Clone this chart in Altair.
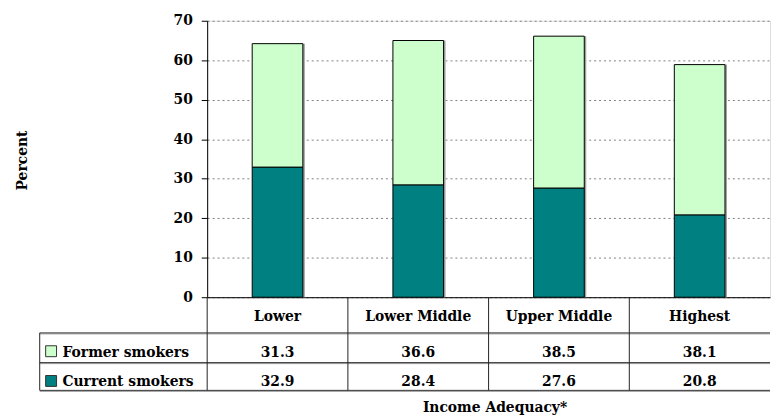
import altair as alt
import pandas as pd

categories = ["Lower", "Lower Middle", "Upper Middle", "Highest"]
former = [31.3, 36.6, 38.5, 38.1]
current = [32.9, 28.4, 27.6, 20.8]
series = ["Former smokers", "Current smokers"]
colors = ["#CCFFCC", "#008080"]
yticks = [0, 10, 20, 30, 40, 50, 60, 70]

rows = []
for i, c in enumerate(categories):
    rows.append({"category": c, "series": series[0], "value": former[i], "order": 1})
    rows.append({"category": c, "series": series[1], "value": current[i], "order": 0})
df = pd.DataFrame(rows)

W = 568
H = 279
FONT = "DejaVu Serif"
FS = 14

xsc = alt.Scale(paddingInner=0, paddingOuter=0)
csc = alt.Scale(domain=series, range=colors)
ysc = alt.Scale(domain=[0, 70], nice=False)

yaxis = alt.Axis(
    title="Percent", values=yticks, labelOverlap=False,
    labelFont=FONT, labelFontSize=FS, labelFontWeight="bold", labelColor="black",
    labelPadding=9, tickSize=6, tickColor="black", domainColor="black",
    grid=True, gridDash=[2, 3], gridColor="#808080", gridWidth=1,
    titleFont=FONT, titleFontSize=FS, titleFontWeight="bold", titleColor="black",
    titleBaseline="alphabetic", titleX=-182, titleY=H / 2 + 1,
)
xaxis = alt.Axis(
    title="Income Adequacy*", labels=False, ticks=False, grid=False,
    domainColor="black", domainWidth=1,
    titleFont=FONT, titleFontSize=FS, titleFontWeight="bold", titleColor="black",
    titleBaseline="alphabetic", titleY=115, titleX=290,
)

base = alt.Chart(df)

shadow = base.mark_bar(color="#a0a0a0", xOffset=2, width=alt.RelativeBandSize(0.36)).encode(
    x=alt.X("category:N", sort=categories, scale=xsc, axis=xaxis),
    y=alt.Y("sum(value):Q", scale=ysc, axis=yaxis),
)

bars = base.mark_bar(stroke="black", strokeWidth=1, width=alt.RelativeBandSize(0.36)).encode(
    x=alt.X("category:N", sort=categories, scale=xsc, axis=xaxis),
    y=alt.Y("value:Q", stack="zero", scale=ysc, axis=yaxis),
    color=alt.Color("series:N", scale=csc, legend=None),
    order=alt.Order("order:Q"),
)

txt = dict(font=FONT, fontSize=FS, fontWeight="bold", color="black", baseline="alphabetic")

header = base.transform_filter(alt.datum.series == series[0]).mark_text(**txt).encode(
    x=alt.X("category:N", sort=categories),
    y=alt.value(321 - 18),
    text="category:N",
)

row1 = base.transform_filter(alt.datum.series == series[0]).mark_text(**txt).encode(
    x=alt.X("category:N", sort=categories),
    y=alt.value(357 - 18),
    text=alt.Text("value:Q", format=".1f"),
)
row2 = base.transform_filter(alt.datum.series == series[1]).mark_text(**txt).encode(
    x=alt.X("category:N", sort=categories),
    y=alt.value(387 - 18),
    text=alt.Text("value:Q", format=".1f"),
)

leg_txt = dict(txt, align="left")
leg1 = base.transform_filter(
    (alt.datum.series == series[0]) & (alt.datum.category == categories[0])
).mark_text(**leg_txt).encode(x=alt.value(-146), y=alt.value(357 - 18), text="series:N")
leg2 = base.transform_filter(
    (alt.datum.series == series[1]) & (alt.datum.category == categories[0])
).mark_text(**leg_txt).encode(x=alt.value(-146), y=alt.value(387 - 18), text="series:N")

sq1 = base.transform_filter(
    (alt.datum.series == series[0]) & (alt.datum.category == categories[0])
).mark_rect(stroke="#333333", strokeWidth=1).encode(
    x=alt.value(-163), x2=alt.value(-152), y=alt.value(346 - 18), y2=alt.value(357 - 18),
    color=alt.Color("series:N", scale=csc, legend=None),
)
sq2 = base.transform_filter(
    (alt.datum.series == series[1]) & (alt.datum.category == categories[0])
).mark_rect(stroke="#333333", strokeWidth=1).encode(
    x=alt.value(-163), x2=alt.value(-152), y=alt.value(376 - 18), y2=alt.value(387 - 18),
    color=alt.Color("series:N", scale=csc, legend=None),
)

vlines = base.transform_filter(alt.datum.series == series[0]).mark_rule(color="#222222", strokeWidth=1).encode(
    x=alt.X("category:N", sort=categories, bandPosition=0),
    y=alt.value(H),
    y2=alt.value(391 - 18),
)

one = pd.DataFrame({"k": [0]})
hl = []
for yy in [333, 363, 391]:
    hl.append(alt.Chart(one).mark_rule(color="#9a9a9a", strokeWidth=1).encode(
        x=alt.value(-169), x2=alt.value(W), y=alt.value(yy - 18 + 1)))
    hl.append(alt.Chart(one).mark_rule(color="#333333", strokeWidth=1).encode(
        x=alt.value(-169), x2=alt.value(W), y=alt.value(yy - 18)))
leftline = alt.Chart(one).mark_rule(color="#222222", strokeWidth=1).encode(
    x=alt.value(-169), y=alt.value(333 - 18), y2=alt.value(391 - 18))

chart = alt.layer(
    shadow, bars, *hl, vlines, leftline, header, row1, row2, sq1, sq2, leg1, leg2
).properties(
    width=W, height=H,
    padding={"left": 8, "top": 4, "right": 0, "bottom": 0},
).configure_view(stroke=None).configure(background="white")

chart.save("out.html", embed_options={"renderer": "svg", "actions": False})
